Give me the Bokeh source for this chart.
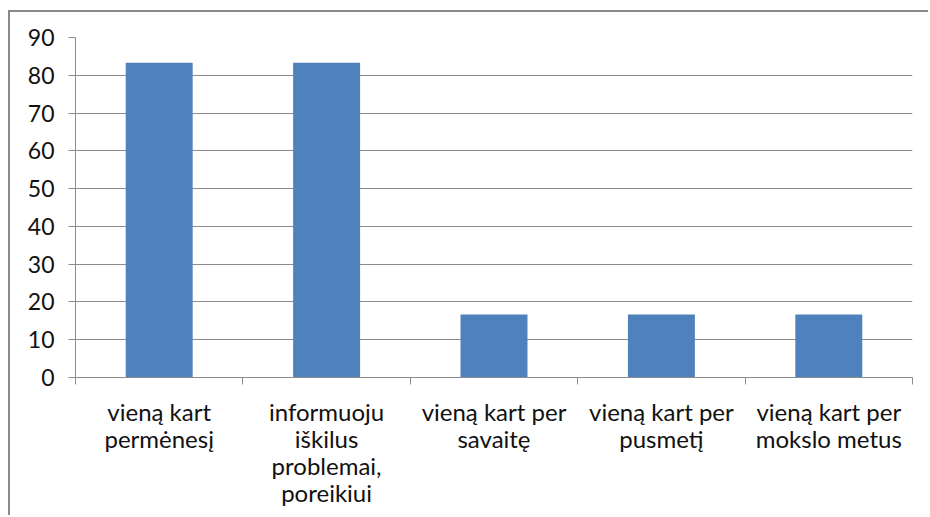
from bokeh.plotting import figure
from bokeh.models import Range1d, FixedTicker, ColumnDataSource
from bokeh.embed import file_html
from bokeh.resources import INLINE

categories = [
    "vieną kart\npermėnesį",
    "informuoju\niškilus\nproblemai,\nporeikiui",
    "vieną kart per\nsavaitę",
    "vieną kart per\npusmetį",
    "vieną kart per\nmokslo metus",
]
values = [83.3, 83.3, 16.7, 16.7, 16.7]
y_ticks = [0, 10, 20, 30, 40, 50, 60, 70, 80, 90]

positions = list(range(1, len(categories) + 1))
boundaries = [i - 0.5 for i in positions] + [positions[-1] + 0.5]

src = ColumnDataSource(dict(x=positions, value=values))

FONT = "Lato"
GRAY = "#8c8c8c"

p = figure(width=920, height=505,
           x_range=Range1d(0.5, len(categories) + 0.5),
           y_range=Range1d(y_ticks[0], y_ticks[-1]),
           output_backend="svg", toolbar_location=None,
           min_border_left=65, min_border_top=25, min_border_right=18, min_border_bottom=140,
           styles={"border-top": "2px solid #8a8a8a", "border-left": "2px solid #8a8a8a",
                   "margin-top": "10px", "margin-left": "8px"})

p.vbar(x="x", top="value", width=0.4, source=src, fill_color="#4F81BD", line_color=None)

p.outline_line_color = None
p.background_fill_color = "white"
p.border_fill_color = "white"

p.xgrid.grid_line_color = None
p.ygrid.ticker = FixedTicker(ticks=y_ticks)
p.ygrid.grid_line_color = GRAY
p.ygrid.grid_line_width = 1

xa = p.xaxis[0]
xa.ticker = FixedTicker(ticks=positions, minor_ticks=boundaries)
xa.major_label_overrides = {pos: lab for pos, lab in zip(positions, categories)}
xa.major_tick_line_color = None
xa.major_tick_out = 0
xa.major_tick_in = 0
xa.minor_tick_line_color = GRAY
xa.minor_tick_out = 7
xa.minor_tick_in = 0
xa.axis_line_color = GRAY
xa.major_label_standoff = 12
xa.major_label_text_font = FONT
xa.major_label_text_font_size = "24px"
xa.major_label_text_line_height = 0.94
xa.major_label_text_color = "#111111"

ya = p.yaxis[0]
ya.ticker = FixedTicker(ticks=y_ticks)
ya.axis_line_color = GRAY
ya.major_tick_line_color = GRAY
ya.major_tick_out = 7
ya.major_tick_in = 0
ya.minor_tick_line_color = None
ya.major_label_standoff = 14
ya.major_label_text_font = FONT
ya.major_label_text_font_size = "23px"
ya.major_label_text_color = "#111111"

open("out.html", "w").write(file_html(p, INLINE))
